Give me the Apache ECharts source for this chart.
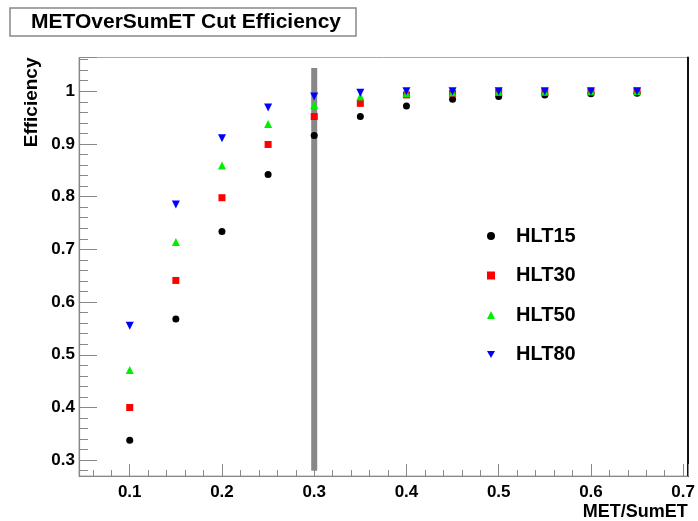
<!DOCTYPE html>
<html>
<head>
<meta charset="utf-8">
<script src="https://cdn.jsdelivr.net/npm/echarts@6/dist/echarts.min.js"></script>
<style>
html,body{margin:0;padding:0;background:#fff;}
#chart{width:698px;height:521px;}
</style>
</head>
<body>
<div id="chart"></div>
<script>
// ---- data ----
const xValues = [0.10, 0.15, 0.20, 0.25, 0.30, 0.35, 0.40, 0.45, 0.50, 0.55, 0.60, 0.65];
const hlt15 = [0.338, 0.568, 0.734, 0.842, 0.916, 0.952, 0.972, 0.985, 0.990, 0.993, 0.995, 0.996];
const hlt30 = [0.400, 0.641, 0.798, 0.899, 0.952, 0.977, 0.993, 0.996, 0.998, 0.999, 0.999, 1.000];
const hlt50 = [0.471, 0.714, 0.859, 0.938, 0.974, 0.990, 0.996, 0.998, 0.999, 0.999, 1.000, 1.000];
const hlt80 = [0.555, 0.785, 0.911, 0.969, 0.990, 0.997, 1.000, 1.000, 1.000, 1.000, 1.000, 1.000];
const seriesNames = ['HLT15', 'HLT30', 'HLT50', 'HLT80'];
const cutX = [0.30, 0.30];
const cutY = [0.280, 1.044];
const xRange = [0.045, 0.705];
const yRange = [0.27, 1.064];
const titleText = 'METOverSumET Cut Efficiency';
const xTitle = 'MET/SumET';
const yTitle = 'Efficiency';

const FONT = '"Liberation Sans", Arial, Helvetica, sans-serif';
const pairs = (ys) => xValues.map((x, i) => [x, ys[i]]);

const chart = echarts.init(document.getElementById('chart'), null, {renderer: 'canvas'});

const markerStyles = [
  {symbol: 'circle', size: 7, legend: 'circle', color: '#000000'},
  {symbol: 'rect', size: 7, legend: 'rect', color: '#ff0000'},
  {symbol: 'triangle', size: 8, legend: 'triangle', color: '#00ee00'},
  {symbol: 'path://M0,0L10,0L5,9Z', size: 8, legend: 'path://M0,0L10,0L5,9Z', color: '#0000ff'}
];
const allData = [hlt15, hlt30, hlt50, hlt80];

const scatterSeries = seriesNames.map((name, i) => ({
  name: name,
  type: 'scatter',
  xAxisIndex: 0, yAxisIndex: 0,
  symbol: markerStyles[i].symbol,
  symbolSize: markerStyles[i].size,
  itemStyle: {color: markerStyles[i].color, opacity: 1},
  z: 3 + i,
  data: pairs(allData[i])
}));

const option = {
  backgroundColor: '#ffffff',
  animation: false,
  title: {
    text: titleText,
    left: 10, top: 8,
    padding: [3, 15, 3, 21],
    borderColor: '#888888', borderWidth: 1.5,
    textStyle: {fontFamily: FONT, fontSize: 21, fontWeight: 'bold', color: '#000', lineHeight: 22}
  },
  legend: {
    data: seriesNames.map((n, i) => ({name: n, icon: markerStyles[i].legend})),
    orient: 'vertical',
    left: 482, top: 221,
    itemWidth: 8, itemHeight: 8,
    itemGap: 19.5,
    textStyle: {fontFamily: FONT, fontSize: 20, fontWeight: 'bold', color: '#000', lineHeight: 20, padding: [0, 0, 0, 16]},
    selectedMode: false
  },
  grid: {
    left: 79, right: 6.5, top: 57.5, bottom: 42.7,
    show: true, borderColor: '#aaaaaa', borderWidth: 1,
    containLabel: false
  },
  xAxis: [{
    type: 'value', min: xRange[0], max: xRange[1], splitNumber: 7,
    name: xTitle, nameLocation: 'end', nameGap: 0,
    nameTextStyle: {fontFamily: FONT, fontSize: 18, fontWeight: 'bold', color: '#000', align: 'right', verticalAlign: 'top', padding: [27, 0, 0, 0]},
    axisLine: {show: true, onZero: false, lineStyle: {color: '#888', width: 1.2}},
    axisTick: {show: true, inside: true, length: 12, lineStyle: {color: '#888'}},
    minorTick: {show: true, splitNumber: 5, length: 6, lineStyle: {color: '#888'}},
    splitLine: {show: false},
    axisLabel: {fontFamily: FONT, fontSize: 17, fontWeight: 'bold', color: '#000', margin: 8,
      showMinLabel: false, showMaxLabel: false,
      formatter: v => (Math.round(v * 10) / 10).toString()}
  }],
  yAxis: [{
    type: 'value', min: yRange[0], max: yRange[1], splitNumber: 8,
    name: yTitle, nameLocation: 'end', nameGap: 0, nameRotate: 90,
    nameTextStyle: {fontFamily: FONT, fontSize: 19, fontWeight: 'bold', color: '#000', align: 'right', verticalAlign: 'bottom', padding: [0, 0, 38, 0]},
    axisLine: {show: true, onZero: false, lineStyle: {color: '#888', width: 1.2}},
    axisTick: {show: true, inside: true, length: 18, lineStyle: {color: '#888'}},
    minorTick: {show: true, splitNumber: 5, length: 9, lineStyle: {color: '#888'}},
    splitLine: {show: false},
    axisLabel: {fontFamily: FONT, fontSize: 17, fontWeight: 'bold', color: '#000', margin: 4,
      showMinLabel: false, showMaxLabel: false,
      formatter: v => (Math.round(v * 10) / 10).toString()}
  }, {
    type: 'value', position: 'right', min: yRange[0], max: yRange[1],
    axisLine: {show: true, onZero: false, lineStyle: {color: '#111', width: 2}},
    axisTick: {show: false}, axisLabel: {show: false}, splitLine: {show: false}
  }],
  series: [
    {
      name: 'cut',
      type: 'line',
      xAxisIndex: 0, yAxisIndex: 0,
      data: [[cutX[0], cutY[0]], [cutX[1], cutY[1]]],
      showSymbol: false, symbol: 'none',
      lineStyle: {color: '#888888', width: 6},
      silent: true, z: 1
    }
  ].concat(scatterSeries)
};

chart.setOption(option);
</script>
</body>
</html>
